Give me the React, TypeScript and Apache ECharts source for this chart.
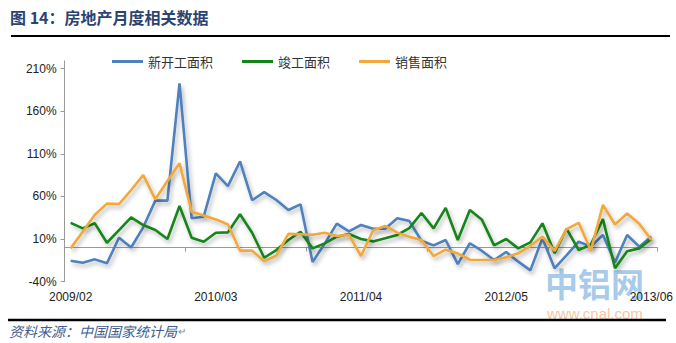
import React, { useEffect, useRef } from "react";
import * as echarts from "echarts";

const categories: string[] = [
  "2009/02", "2009/03", "2009/04", "2009/05", "2009/06", "2009/07", "2009/08", "2009/09", "2009/10", "2009/11", "2009/12",
  "2010/02", "2010/03", "2010/04", "2010/05", "2010/06", "2010/07", "2010/08", "2010/09", "2010/10", "2010/11", "2010/12",
  "2011/02", "2011/03", "2011/04", "2011/05", "2011/06", "2011/07", "2011/08", "2011/09", "2011/10", "2011/11", "2011/12",
  "2012/02", "2012/03", "2012/04", "2012/05", "2012/06", "2012/07", "2012/08", "2012/09", "2012/10", "2012/11", "2012/12",
  "2013/02", "2013/03", "2013/04", "2013/05", "2013/06",
];

const seriesNames: string[] = ["新开工面积", "竣工面积", "销售面积"];

const newStarts: number[] = [
  -15.5, -17.8, -13.9, -18.5, 11.5, 0, 23.7, 55, 55, 192.7, 34.3,
  36.2, 87, 72, 101, 55.5, 65, 55.8, 44, 50.7, -17, 4.5,
  28, 19, 26.4, 22, 22, 34.3, 31, 8, 2.5, 8.8, -19.5,
  5, -4, -14.7, -5.3, -16.6, -26.8, 10.8, -24.4, -9, 6.8, 1,
  14.7, -17.5, 14.7, 1, 13,
];

const completed: number[] = [
  29, 22.5, 28.4, 5.6, 20.5, 35.4, 26.4, 20.5, 10, 48.7, 11.5,
  6.8, 17.4, 17.8, 39, 17.4, -12, -3, 8.8, 18.5, -1, 4.9,
  12.7, 15.8, 10, 7.2, 10.8, 14.7, 22.8, 40.5, 22.5, 46.5, 8.8,
  44, 32.5, 2.5, 10, -1, 6, 28.4, -6.5, 22, -3, 3.5,
  33.3, -24.4, -4.5, -1, 10,
];

const sales: number[] = [
  -1, 18.5, 38.5, 51.5, 51, 67.5, 85, 56.6, 78, 98.8, 42,
  37.5, 33, 27, -3.7, -3.7, -16, -9.5, 16, 15.5, 15, 17.4,
  13.5, 15, -10, 20, 25.4, 17.5, 12.5, 8.8, -10, -2.5, -7,
  -14.3, -14.7, -14.7, -11.5, -6.8, 2, 12.7, -4, 21.5, 29, -3.5,
  50, 27, 40, 28, 9,
];

const colors: string[] = ["#4F81BD", "#15851A", "#F2A83A"];

export default function App() {
  const ref = useRef<HTMLDivElement>(null);

  useEffect(() => {
    if (!ref.current) return;
    const chart = echarts.init(ref.current, undefined, { renderer: "svg" });
    const dataSets = [newStarts, completed, sales];
    const cjk = '"Noto Sans CJK SC", "Noto Sans", sans-serif';
    const latin = '"Liberation Sans", "Noto Sans CJK SC", sans-serif';

    const option: any = {
      animation: false,
      backgroundColor: "#ffffff",
      textStyle: { fontFamily: latin },
      grid: { left: 64.6, right: 16.8, top: 68.6, bottom: 61.4, containLabel: false },
      legend: {
        data: seriesNames,
        left: 107,
        top: 50,
        icon: "rect",
        itemWidth: 31,
        itemHeight: 3,
        itemGap: 29,
        textStyle: { fontFamily: cjk, fontSize: 13, color: "#333" },
      },
      xAxis: [
        {
          type: "category",
          data: categories,
          boundaryGap: true,
          axisLine: { show: false, onZero: false },
          axisTick: { show: false },
          splitLine: { show: false },
          axisLabel: { interval: 11, margin: 9, fontSize: 12, color: "#222", fontFamily: latin },
          z: 5,
        },
        {
          type: "category",
          data: categories,
          boundaryGap: true,
          position: "bottom",
          axisLine: { show: true, onZero: true, lineStyle: { color: "#999", width: 1 } },
          axisTick: { show: true, interval: 9, length: 4, lineStyle: { color: "#999" } },
          axisLabel: { show: false },
          splitLine: { show: false },
        },
      ],
      yAxis: {
        type: "value",
        min: -40,
        max: 210,
        interval: 50,
        axisLine: { show: true, lineStyle: { color: "#999", width: 1 } },
        axisTick: { show: true, length: 4, lineStyle: { color: "#999" } },
        splitLine: { show: false },
        axisLabel: { formatter: "{value}%", fontSize: 12, color: "#222", margin: 8, fontFamily: latin },
      },
      series: seriesNames.map((name, i) => ({
        name,
        type: "line",
        xAxisIndex: 0,
        data: dataSets[i],
        symbol: "none",
        smooth: false,
        color: colors[i],
        lineStyle: {
          color: colors[i],
          width: 2.6,
          shadowColor: "rgba(0,0,0,0.28)",
          shadowBlur: 4,
          shadowOffsetX: 2,
          shadowOffsetY: 3,
        },
        z: 3 + i,
      })),
      graphic: [
        {
          type: "text",
          left: 10,
          top: 9,
          style: { text: "图 14：房地产月度相关数据", font: `bold 16px ${cjk}`, fill: "#2A4372" },
        },
        { type: "line", shape: { x1: 11, y1: 36, x2: 670, y2: 36 }, style: { stroke: "#000", lineWidth: 2 } },
        { type: "line", shape: { x1: 64.5, y1: 60.5, x2: 64.5, y2: 69 }, style: { stroke: "#999", lineWidth: 1 } },
        {
          type: "text",
          x: 545,
          y: 266,
          z: 0,
          style: { text: "中铝网", font: `bold 33px ${cjk}`, lineHeight: 33, fill: "rgba(140,186,230,0.75)" },
        },
        {
          type: "text",
          x: 547,
          y: 306,
          z: 0,
          style: { text: "www.cnal.com", font: `15px ${latin}`, lineHeight: 15, fill: "rgba(244,170,118,0.7)" },
        },
        { type: "line", shape: { x1: 8, y1: 320, x2: 666, y2: 320 }, style: { stroke: "#000", lineWidth: 2.5 } },
        {
          type: "text",
          x: 9,
          y: 324,
          style: { text: "资料来源：中国国家统计局", font: `italic 14px ${cjk}`, fill: "#3D5F93" },
        },
        {
          type: "text",
          x: 178,
          y: 326,
          style: { text: "↵", font: `10px ${latin}`, fill: "#888" },
        },
      ],
    };

    chart.setOption(option);
    return () => chart.dispose();
  }, []);

  return (
    <div
      ref={ref}
      style={{ position: "fixed", left: 0, top: 0, width: 676, height: 343, background: "#fff" }}
    />
  );
}
